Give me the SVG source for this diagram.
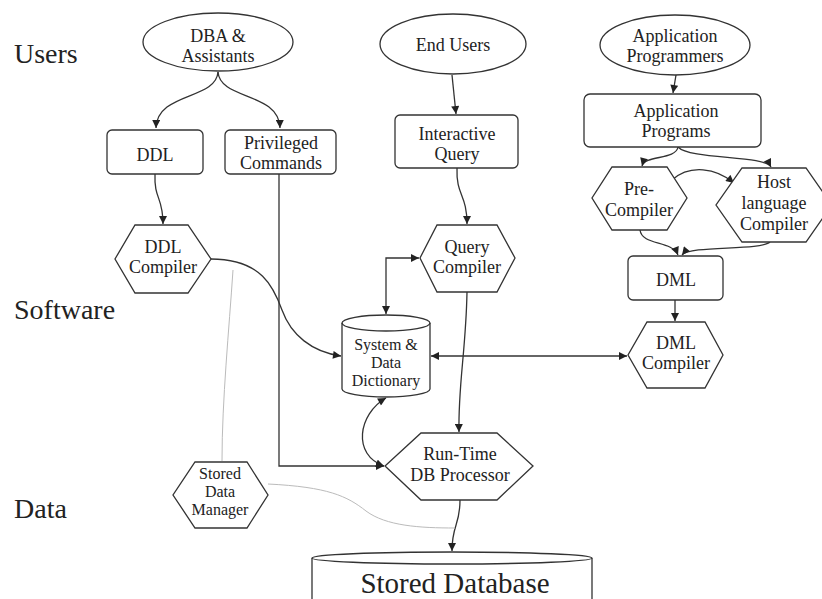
<svg xmlns="http://www.w3.org/2000/svg" width="822" height="599" viewBox="0 0 822 599" font-family="Liberation Serif, DejaVu Serif, Times New Roman, serif">
<defs>
<marker id="ah" viewBox="0 0 10 10" refX="10" refY="5" markerWidth="9" markerHeight="8" markerUnits="userSpaceOnUse" orient="auto-start-reverse">
<path d="M0,0 L10,5 L0,10 z" fill="#222"/>
</marker>
</defs>
<style>
.shape{fill:#fff;stroke:#333;stroke-width:1.3}
text{fill:#222}
.t{font-size:18px;text-anchor:middle}
.s{font-size:16px;text-anchor:middle}
.lbl{font-size:28px}
.big{font-size:29px;text-anchor:middle}
.c{fill:none;stroke:#333;stroke-width:1.3}
.a{marker-end:url(#ah)}
.b{marker-start:url(#ah);marker-end:url(#ah)}
.f{fill:none;stroke:#bbb;stroke-width:1}
</style>
<rect width="822" height="599" fill="#fff"/>
<g id="labels">
<text class="lbl" x="14" y="63">Users</text>
<text class="lbl" x="14" y="319">Software</text>
<text class="lbl" x="14" y="518">Data</text>
</g>
<g id="connectors">
<path class="c a" d="M218,72 C216,100 157,92 156,128"/>
<path class="c a" d="M218,72 C220,100 279,92 280,128"/>
<path class="c a" d="M155,174 C154,200 163,196 163,224"/>
<path class="c a" d="M211,259 C262,259 274,288 282,310 C291,335 312,352 341,356"/>
<path class="c a" d="M279,174 L279,466 L384,466"/>
<path class="c a" d="M452,75 L456,114"/>
<path class="c a" d="M457,168 C456,196 467,194 467,224"/>
<path class="c b" d="M419,258 L386,258 L386,314"/>
<path class="c a" d="M467,292 C466,350 458,385 459,432"/>
<path class="c b" d="M386,398 C358,414 352,455 384,466"/>
<path class="c b" d="M431,356 L627,356"/>
<path class="c a" d="M676,75 L673,93"/>
<path class="c a" d="M678,147 C676,160 645,155 642,166"/>
<path class="c a" d="M678,147 C690,160 765,155 771,167"/>
<path class="c a" d="M672,180 C690,164 716,168 734,183"/>
<path class="c a" d="M640,230 C642,246 672,240 678,255"/>
<path class="c a" d="M770,242 C760,251 690,245 682,255"/>
<path class="c a" d="M675,300 L675,321"/>
<path class="c a" d="M460,500 C460,526 452,524 452,551"/>
<path class="f" d="M233,270 C229,330 222,400 222,461"/>
<path class="f" d="M268,484 C328,487 347,496 366,511 C386,526 420,528 455,528"/>
</g>
<g id="dba">
<ellipse class="shape" cx="218" cy="42" rx="75" ry="29"/>
<text class="t" x="218" y="42">DBA &amp;</text>
<text class="t" x="218" y="62">Assistants</text>
</g>
<g id="endusers">
<ellipse class="shape" cx="453" cy="44" rx="73" ry="30"/>
<text class="t" x="453" y="51">End Users</text>
</g>
<g id="appprogrammers">
<ellipse class="shape" cx="675" cy="45" rx="75" ry="30"/>
<text class="t" x="675" y="42">Application</text>
<text class="t" x="675" y="62">Programmers</text>
</g>
<g id="ddl">
<rect class="shape" x="107" y="130" width="96" height="44" rx="5"/>
<text class="t" x="155" y="161">DDL</text>
</g>
<g id="privileged">
<rect class="shape" x="225" y="130" width="111" height="44" rx="5"/>
<text class="t" x="281" y="149">Privileged</text>
<text class="t" x="281" y="169">Commands</text>
</g>
<g id="interactive">
<rect class="shape" x="395" y="115" width="123" height="53" rx="5"/>
<text class="t" x="457" y="140">Interactive</text>
<text class="t" x="457" y="160">Query</text>
</g>
<g id="appprograms">
<rect class="shape" x="584" y="94" width="177" height="53" rx="6"/>
<text class="t" x="676" y="117">Application</text>
<text class="t" x="676" y="137">Programs</text>
</g>
<g id="precompiler">
<polygon class="shape" points="612,167 667,167 687,198 667,230 612,230 592,198"/>
<text class="t" x="639" y="195">Pre-</text>
<text class="t" x="639" y="216">Compiler</text>
</g>
<g id="hostcompiler">
<polygon class="shape" points="742,168 806,168 832,205 806,242 742,242 716,205"/>
<text class="t" x="774" y="188">Host</text>
<text class="t" x="774" y="209">language</text>
<text class="t" x="774" y="230">Compiler</text>
</g>
<g id="dml">
<rect class="shape" x="628" y="256" width="95" height="44" rx="5"/>
<text class="t" x="676" y="286">DML</text>
</g>
<g id="dmlcompiler">
<polygon class="shape" points="647,322 705,322 723,355 705,388 647,388 628,355"/>
<text class="t" x="676" y="349">DML</text>
<text class="t" x="676" y="369">Compiler</text>
</g>
<g id="querycompiler">
<polygon class="shape" points="437,225 497,225 515,258 497,292 437,292 420,258"/>
<text class="t" x="467" y="253">Query</text>
<text class="t" x="467" y="273">Compiler</text>
</g>
<g id="ddlcompiler">
<polygon class="shape" points="135,225 188,225 211,259 188,293 135,293 115,259"/>
<text class="t" x="163" y="253">DDL</text>
<text class="t" x="163" y="273">Compiler</text>
</g>
<g id="dictionary">
<path class="shape" d="M342,323 L342,389 A44,8 0 0 0 430,389 L430,323 A44,8 0 0 0 342,323 Z"/>
<path class="c" d="M342,323 A44,8 0 0 0 430,323"/>
<text class="s" x="386" y="350">System &amp;</text>
<text class="s" x="386" y="368">Data</text>
<text class="s" x="386" y="386">Dictionary</text>
</g>
<g id="runtime">
<polygon class="shape" points="421,433 497,433 533,466 497,500 421,500 385,466"/>
<text class="t" x="460" y="460">Run-Time</text>
<text class="t" x="460" y="481">DB Processor</text>
</g>
<g id="storeddatamanager">
<polygon class="shape" points="195,462 247,462 268,495 247,528 195,528 173,495"/>
<text class="s" x="220" y="479">Stored</text>
<text class="s" x="220" y="497">Data</text>
<text class="s" x="220" y="515">Manager</text>
</g>
<g id="storeddatabase">
<path class="shape" d="M312,558 L312,610 L592,610 L592,558 A140,6 0 0 0 312,558 Z"/>
<path class="c" d="M312,558 A140,6 0 0 0 592,558"/>
<text class="big" x="455" y="593">Stored Database</text>
</g>
</svg>
